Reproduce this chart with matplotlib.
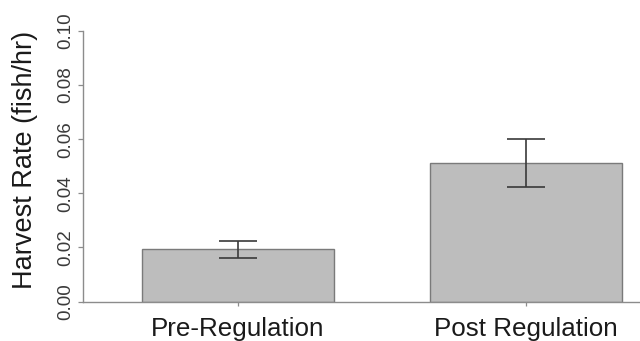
import numpy as np
import matplotlib
matplotlib.use('Agg')
import matplotlib.pyplot as plt

plt.rcParams['font.family'] = ['Liberation Sans', 'DejaVu Sans']

# values
groups = ['Pre-Regulation', 'Post Regulation']
harvest_rate = [0.0193, 0.0512]
harvest_se = [0.0031, 0.0088]
y_ticks = [0.00, 0.02, 0.04, 0.06, 0.08, 0.10]

axis_grey = '#8c8c8c'

fig = plt.figure(figsize=(6.4, 3.41), dpi=100)
ax = fig.add_axes([0.1297, 0.1158, 1.0 - 0.1297, 0.7933])

x = np.arange(len(groups))
ax.bar(x, harvest_rate, width=0.665, color='#bdbdbd', edgecolor='#7a7a7a', linewidth=1.0, zorder=2)
ax.errorbar(x, harvest_rate, yerr=harvest_se, fmt='none', ecolor='#3a3a3a',
            elinewidth=1.2, capsize=13.7, capthick=1.2, zorder=3)

ax.set_xlim(-0.537, 1.396)
ax.set_ylim(0, 0.1)
ax.set_yticks(y_ticks)
ax.set_yticklabels(['%.2f' % v for v in y_ticks], rotation=90, va='center',
                   fontsize=13.5, color='#3a3a3a')
ax.set_xticks(x)
ax.set_xticklabels(groups, fontsize=18.7, color='#1a1a1a')

ax.tick_params(axis='y', length=3.5, width=0.9, color=axis_grey, pad=3)
ax.tick_params(axis='x', length=3, width=0.9, color=axis_grey, pad=8.5)

for side in ['top', 'right']:
    ax.spines[side].set_visible(False)
ax.spines['left'].set_color(axis_grey)
ax.spines['bottom'].set_color(axis_grey)
ax.spines['left'].set_linewidth(1.0)
ax.spines['bottom'].set_linewidth(1.0)

ax.set_ylabel('Harvest Rate (fish/hr)', fontsize=19.5, color='#1a1a1a')
ax.yaxis.label.set_va('center')
ax.yaxis.set_label_coords(-0.104, 0.523)

fig.savefig('out.png', dpi=100)
plt.close(fig)
